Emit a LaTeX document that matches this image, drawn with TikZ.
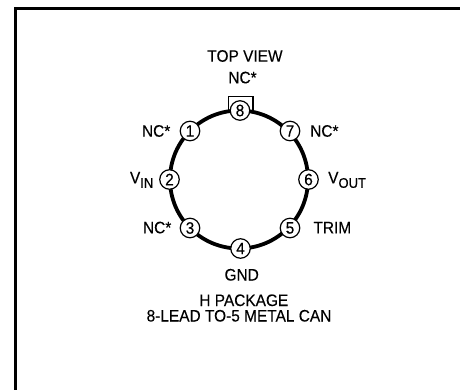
\documentclass[tikz,border=0pt]{standalone}
\usepackage{fontspec}
\setmainfont[FakeBold=0.2,FakeStretch=0.93]{Liberation Sans}
\begin{document}
\begin{tikzpicture}[x=1pt,y=-1pt,
  pin/.style={circle,draw=black,fill=white,line width=1.2pt,minimum size=19.5pt,inner sep=0pt,font=\fontsize{16.5}{18}\selectfont},
  lbl/.style={inner sep=0pt,font=\fontsize{16.6}{18}\selectfont},
  ring/.style={line width=3.8pt}]
\useasboundingbox (0,0) rectangle (460,389);
% frame
\draw[line width=2.2pt] (15.5,400) -- (15.5,8.5) -- (470,8.5);
% tab at pin 8
\draw[line width=1.2pt] (228.5,111) -- (228.5,96.5) -- (253,96.5) -- (253,111);
% ring
\coordinate (c) at (239,179.5);
\draw[ring] (c) circle (69);
% pins
\node[pin] (p8) at (240,110.5) {8};
\node[pin] (p7) at (290,131) {7};
\node[pin] (p6) at (308.5,179.5) {6};
\node[pin] (p5) at (290,228) {5};
\node[pin] (p4) at (240.5,248.5) {4};
\node[pin] (p3) at (190,228) {3};
\node[pin] (p2) at (169.5,179.5) {2};
\node[pin] (p1) at (190,131) {1};
% labels
\node[lbl,anchor=base] (top) at (245,61.7) {TOP VIEW};
\node[lbl,anchor=base] (l8) at (242.5,83.3) {NC*};
\node[lbl,anchor=base east] (l1) at (170.5,136.7) {NC*};
\node[lbl,anchor=base east] (l2) at (153.5,183.3) {V\raisebox{-4.5pt}{\fontsize{14}{15}\selectfont IN}};
\node[lbl,anchor=base east] (l3) at (171.5,233.3) {NC*};
\node[lbl,anchor=base west] (l7) at (310,136.7) {NC*};
\node[lbl,anchor=base west] (l6) at (328,183.3) {V\raisebox{-4.5pt}{\fontsize{14}{15}\selectfont OUT}};
\node[lbl,anchor=base west] (l5) at (313.3,233.3) {TRIM};
\node[lbl,anchor=base] (l4) at (241.7,280.5) {GND};
\node[lbl,anchor=base] (pk) at (243.8,306) {H PACKAGE};
\node[lbl,anchor=base] (pk2) at (239,321.5) {8-LEAD TO-5 METAL CAN};
\end{tikzpicture}
\end{document}
